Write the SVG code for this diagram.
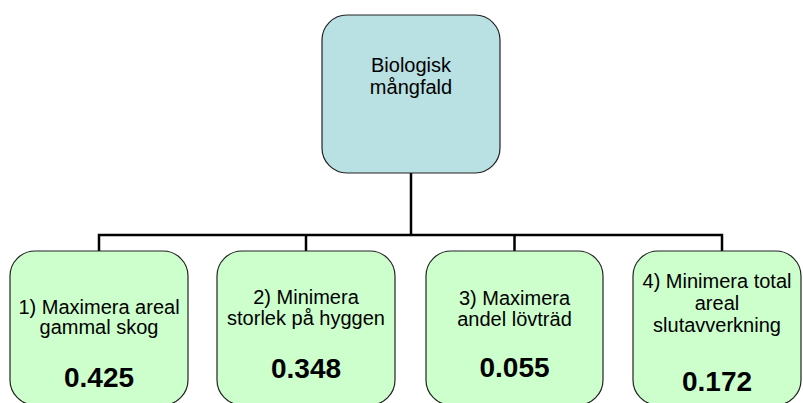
<svg xmlns="http://www.w3.org/2000/svg" width="803" height="403" viewBox="0 0 803 403">
<style>
.box{stroke:#222;stroke-width:1.2}
.top{fill:#B9E0E3}
.leaf{fill:#CCFFCC}
text{font-family:"Liberation Sans",Arial,sans-serif;fill:#000;text-anchor:middle}
.t{font-size:20px}
.n{font-size:28px;font-weight:bold}
.conn{fill:none;stroke:#000;stroke-width:2.5}
</style>
<rect width="803" height="403" fill="#fff"/>
<g id="connectors">
<path class="conn" d="M411 173 V235"/>
<path class="conn" d="M99 251 V235 H722 V251"/>
<path class="conn" d="M306 235 V251"/>
<path class="conn" d="M514.5 235 V251"/>
</g>
<g id="root">
<rect class="box top" x="322" y="15" width="178" height="158" rx="25"/>
<text class="t" x="411" y="72">Biologisk</text>
<text class="t" x="411" y="94">mångfald</text>
</g>
<g id="n1">
<rect class="box leaf" x="10" y="251" width="178" height="154" rx="25"/>
<text class="t" x="99" y="314">1) Maximera areal</text>
<text class="t" x="99" y="334">gammal skog</text>
<text class="n" x="99" y="387">0.425</text>
</g>
<g id="n2">
<rect class="box leaf" x="217" y="251" width="178" height="154" rx="25"/>
<text class="t" x="306" y="304">2) Minimera</text>
<text class="t" x="306" y="325">storlek på hyggen</text>
<text class="n" x="306" y="378">0.348</text>
</g>
<g id="n3">
<rect class="box leaf" x="426" y="251" width="177" height="154" rx="25"/>
<text class="t" x="514.5" y="305">3) Maximera</text>
<text class="t" x="514.5" y="326">andel lövträd</text>
<text class="n" x="514.5" y="377">0.055</text>
</g>
<g id="n4">
<rect class="box leaf" x="633" y="251" width="168" height="154" rx="25"/>
<text class="t" x="717" y="288">4) Minimera total</text>
<text class="t" x="717" y="310">areal</text>
<text class="t" x="717" y="332">slutavverkning</text>
<text class="n" x="717" y="391">0.172</text>
</g>
</svg>
